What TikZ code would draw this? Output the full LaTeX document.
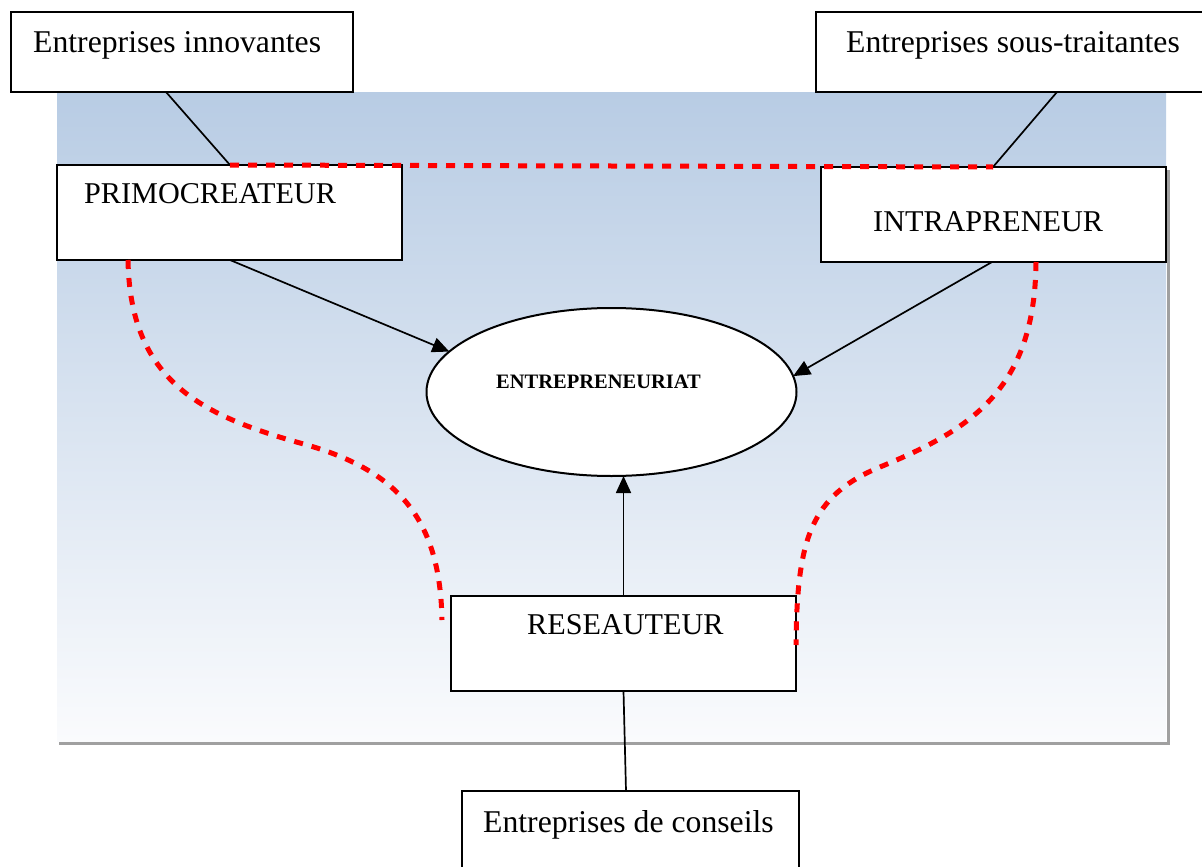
\documentclass[tikz,border=0pt]{standalone}
\usepackage{fontspec}
\setmainfont{Liberation Serif}
\usetikzlibrary{shapes.geometric,arrows.meta,calc}
\definecolor{bgtop}{RGB}{184,204,228}
\definecolor{bgbot}{RGB}{250,251,253}
\definecolor{shadowgray}{RGB}{160,160,160}
\definecolor{dotred}{RGB}{255,0,0}
\begin{document}
\begin{tikzpicture}[x=1pt,y=-1pt,
  box/.style={draw=black, line width=2pt, fill=white, inner sep=0pt, outer sep=0pt, anchor=north west},
  ell/.style={ellipse, draw=black, line width=2pt, fill=white, inner sep=0pt, outer sep=0pt},
  bigtxt/.style={inner sep=0pt, anchor=base west, font=\fontsize{31.7}{36}\selectfont},
  midtxt/.style={inner sep=0pt, anchor=base west, font=\fontsize{30.2}{34}\selectfont},
  boldtxt/.style={inner sep=0pt, anchor=base west, font=\fontsize{20.5}{24}\selectfont\bfseries},
  conn/.style={draw=black, line width=1.7pt},
  arr/.style={conn, -{Triangle[length=17pt,width=15pt]}},
  reddot/.style={draw=dotred, line width=5pt, dash pattern=on 9pt off 9pt},
  shadowline/.style={draw=shadowgray, line width=3pt}
]
\useasboundingbox (0,0) rectangle (1202,867);
% background panel
\shade[top color=bgtop, bottom color=bgbot] (57,92) rectangle (1166,741);
\draw[shadowline] (1168,170) -- (1168,745);
\draw[shadowline] (59,743.5) -- (1169,743.5);

% boxes
\node[box, minimum width=342, minimum height=80] (ei) at (11,12) {};
\node[box, minimum width=420, minimum height=80] (est) at (816,12) {};
\node[box, minimum width=345, minimum height=95] (primo) at (57,165) {};
\node[box, minimum width=345, minimum height=95] (intra) at (821,167) {};
\node[box, minimum width=345, minimum height=95] (res) at (451,596) {};
\node[box, minimum width=337, minimum height=100] (cons) at (462,791) {};
\node[ell, minimum width=370, minimum height=168] (ent) at (611.5,392) {};

% texts
\node[bigtxt] (tei) at (33,53) {Entreprises innovantes};
\node[bigtxt] (test) at (846,53) {Entreprises sous-traitantes};
\node[midtxt] (tprimo) at (84,203) {PRIMOCREATEUR};
\node[midtxt] (tintra) at (873,231) {INTRAPRENEUR};
\node[boldtxt] (tent) at (496,388) {ENTREPRENEURIAT};
\node[midtxt] (tres) at (527,634) {RESEAUTEUR};
\node[bigtxt] (tcons) at (483,832) {Entreprises de conseils};

% connectors
\draw[conn] ($(ei.south west)+(155,0)$) -- ($(primo.north west)+(173,0)$);
\draw[conn] ($(est.south west)+(241,0)$) -- ($(intra.north west)+(172,0)$);
\draw[arr] ($(primo.south west)+(173,0)$) -- (ent.166);
\draw[arr] ($(intra.south west)+(171,0)$) -- (ent.5);
\draw[arr] (res.north) -- (res.north |- ent.south);
\draw[conn] (res.south) -- ($(cons.north west)+(164,0)$);

% red dotted lines
\coordinate (lend) at (442,620);
\coordinate (rend) at (796,645);
\draw[reddot] ($(primo.north west)+(173,0)$) -- ($(intra.north west)+(172,0)$);
\draw[reddot] ($(primo.south west)+(71,0)$) .. controls (130,380) and (200,415) .. (300,443)
  .. controls (400,470) and (440,520) .. (lend);
\draw[reddot] ($(intra.south west)+(215,0)$) .. controls (1035,390) and (970,430) .. (880,467)
  .. controls (810,496) and (797,540) .. (rend);
\end{tikzpicture}
\end{document}
